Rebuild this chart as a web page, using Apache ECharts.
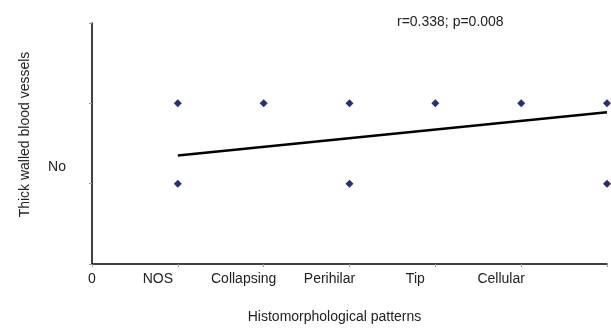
<!DOCTYPE html>
<html>
<head>
<meta charset="utf-8">
<script src="https://cdn.jsdelivr.net/npm/echarts@6/dist/echarts.min.js"></script>
<style>
  html, body { margin: 0; padding: 0; background: #fff; }
  #chart { width: 611px; height: 329px; }
</style>
</head>
<body>
<div id="chart"></div>
<script>
// 组织形态学类型（x 轴刻度 0..6）
const patterns = ['0', 'NOS', 'Collapsing', 'Perihilar', 'Tip', 'Cellular', ''];
// 散点：[类型序号, 编码值]
const points = [
  [1, 2], [2, 2], [3, 2], [4, 2], [5, 2], [6, 2],
  [1, 1], [3, 1], [6, 1]
];
// 回归线两端
const trend = [[1, 1.35], [6, 1.89]];
const yLabels = { 1: 'No' };
const note = 'r=0.338; p=0.008';

let chart = echarts.init(document.getElementById('chart'));
chart.setOption({
  animation: false,
  textStyle: { fontFamily: 'Liberation Sans, Arial, sans-serif' },
  grid: { left: 92, right: 4, top: 23, bottom: 63 },
  xAxis: {
    type: 'value',
    min: 0,
    max: 6,
    interval: 1,
    name: 'Histomorphological patterns',
    nameLocation: 'middle',
    nameGap: 46,
    nameTextStyle: { color: '#222', fontSize: 14, padding: [0, 30, 0, 0] },
    axisLine: { lineStyle: { color: '#000', width: 1.5 } },
    axisTick: { show: true, length: 3, lineStyle: { color: '#999' } },
    splitLine: { show: false },
    axisLabel: {
      margin: 8,
      color: '#222',
      fontSize: 14,
      formatter: v => v === 0 ? '{z|0}' : '{a|' + (patterns[v] || '') + '}',
      rich: {
        z: { fontSize: 14, color: '#222', padding: [0, 0, 14, 0] },
        a: { fontSize: 14, color: '#222', padding: [0, 40, 0, 0] }
      }
    }
  },
  yAxis: {
    type: 'value',
    min: 0,
    max: 3,
    interval: 1,
    name: 'Thick walled blood vessels',
    nameLocation: 'middle',
    nameGap: 60,
    nameRotate: 90,
    nameTextStyle: { color: '#222', fontSize: 14, padding: [0, 0, 0, 18] },
    axisLine: { show: true, lineStyle: { color: '#000', width: 1.5 } },
    axisTick: { show: true, length: 3, lineStyle: { color: '#999' } },
    splitLine: { show: false },
    axisLabel: {
      margin: 26,
      color: '#222',
      fontSize: 14,
      formatter: v => yLabels[v] ? '{a|' + yLabels[v] + '}' : '',
      rich: { a: { fontSize: 14, color: '#222', padding: [0, 0, 34, 0] } }
    }
  },
  graphic: [{
    type: 'text',
    left: 397,
    top: 15,
    style: { text: note, fontSize: 14, fill: '#222', textAlign: 'center', fontFamily: 'Liberation Sans, Arial' }
  }],
  series: [
    {
      type: 'scatter',
      data: points,
      symbol: 'diamond',
      symbolSize: 8,
      itemStyle: { color: '#2a2d78', opacity: 1 }
    },
    {
      type: 'line',
      data: trend,
      symbol: 'none',
      lineStyle: { color: '#000', width: 2.5 }
    }
  ]
});
</script>
</body>
</html>
